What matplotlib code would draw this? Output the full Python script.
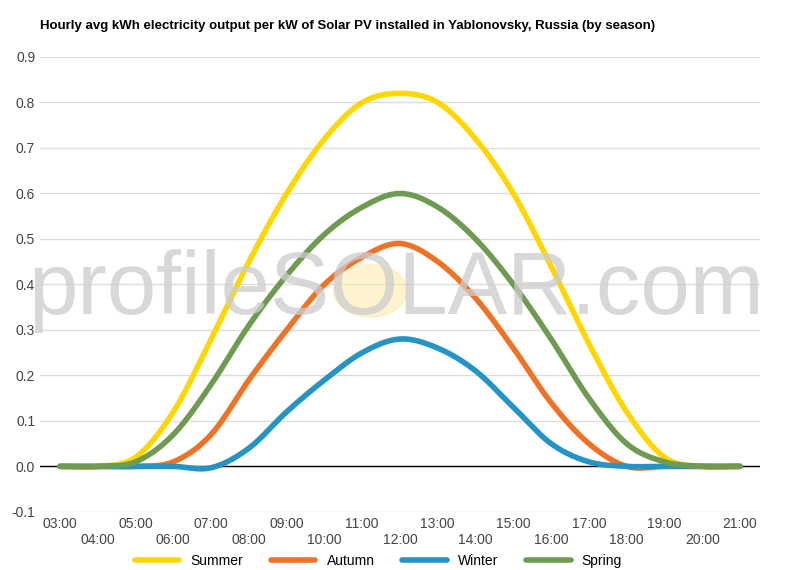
import numpy as np
import matplotlib
matplotlib.use("Agg")
import matplotlib.pyplot as plt
from matplotlib.patches import Circle

plt.rcParams["font.family"] = "Liberation Sans"

hours = ["03:00","04:00","05:00","06:00","07:00","08:00","09:00","10:00","11:00","12:00",
         "13:00","14:00","15:00","16:00","17:00","18:00","19:00","20:00","21:00"]
summer = [0,0,0.02,0.12,0.28,0.45,0.60,0.72,0.80,0.82,0.80,0.72,0.60,0.44,0.27,0.12,0.02,0,0]
autumn = [0,0,0,0.01,0.07,0.19,0.30,0.40,0.46,0.49,0.45,0.37,0.26,0.14,0.05,0.0,0,0,0]
winter = [0,0,0,0,-0.003,0.04,0.12,0.19,0.25,0.28,0.26,0.21,0.13,0.05,0.01,0,0,0,0]
spring = [0,0,0.01,0.07,0.18,0.31,0.42,0.51,0.57,0.60,0.57,0.50,0.40,0.28,0.15,0.05,0.01,0,0]
series = [("Summer", summer, "#ffd700"), ("Autumn", autumn, "#ee7326"),
          ("Winter", winter, "#2394c4"), ("Spring", spring, "#6e9a52")]

def smooth(y, n=20):
    y = np.asarray(y, float)
    p = np.concatenate([[y[0]], y, [y[-1]]])
    xs, ys = [], []
    for i in range(len(y) - 1):
        p0, p1, p2, p3 = p[i], p[i+1], p[i+2], p[i+3]
        t = np.linspace(0, 1, n, endpoint=False)
        ys.append(0.5*((2*p1)+(-p0+p2)*t+(2*p0-5*p1+4*p2-p3)*t**2+(-p0+3*p1-3*p2+p3)*t**3))
        xs.append(i + t)
    xs.append([len(y)-1]); ys.append([y[-1]])
    return np.concatenate(xs), np.concatenate(ys)

fig = plt.figure(figsize=(8, 5.7), dpi=100)
ax = fig.add_axes([0.05, 0.102, 0.9, 0.798])
x = np.arange(len(hours))
for name, vals, c in series:
    sx, sy = smooth(vals)
    ax.plot(sx, sy, color=c, lw=4, label=name, solid_capstyle="round", zorder=3)

ax.set_xlim(-0.53, len(hours) - 0.47)
ax.set_ylim(-0.1, 0.9)
ax.set_yticks(np.arange(-0.1, 0.91, 0.1))
ax.set_yticklabels([f"{v:.1f}" for v in np.arange(-0.1, 0.91, 0.1)])
ax.grid(axis="y", color="#dddddd", lw=1)
ax.axhline(0, color="black", lw=1, zorder=2)
ax.set_xticks(x)
ax.set_xticklabels([h if i % 2 == 0 else "\n" + h for i, h in enumerate(hours)])
ax.tick_params(length=0, labelsize=10, colors="#444444")
for s in ax.spines.values():
    s.set_visible(False)

fig.text(0.05, 0.95, "Hourly avg kWh electricity output per kW of Solar PV installed in Yablonovsky, Russia (by season)",
         fontsize=9.5, fontweight="bold")
fig.text(0.495, 0.49, "profileSOLAR.com", fontsize=64, color="#cccccc", alpha=0.75,
         ha="center", va="center", zorder=0)
fig.patches.append(Circle((0.463, 0.49), 0.046, transform=fig.transFigure,
                          color="#fde9a0", alpha=0.5, zorder=0))
ax.set_facecolor("none")
ax.legend(loc="upper center", bbox_to_anchor=(0.47, -0.065), ncol=4, frameon=False,
          fontsize=10, handlelength=3.2)
fig.savefig("out.png")
